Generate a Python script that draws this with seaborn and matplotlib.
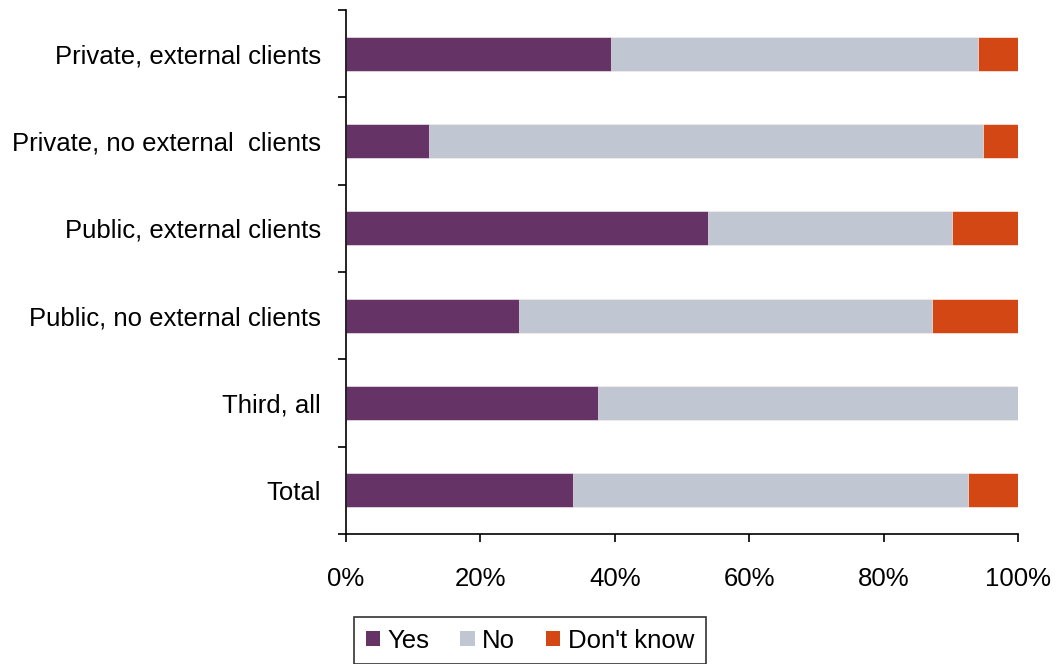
import numpy as np
import pandas as pd
import seaborn as sns
import matplotlib.pyplot as plt
from matplotlib.patches import Patch

categories = ['Private, external clients', 'Private, no external  clients',
              'Public, external clients', 'Public, no external clients',
              'Third, all', 'Total']
yes = [39.4, 12.4, 53.9, 25.7, 37.5, 33.8]
no = [54.6, 82.4, 36.3, 61.5, 62.5, 58.8]
dont_know = [6.0, 5.2, 9.8, 12.8, 0.0, 7.4]
series = ['Yes', 'No', "Don't know"]
colors = ['#663366', '#C0C6D2', '#D24713']

sns.set_style('white')
plt.rcParams['font.family'] = ['Liberation Sans', 'DejaVu Sans']
plt.rcParams['text.color'] = 'black'
plt.rcParams['xtick.color'] = 'black'
plt.rcParams['ytick.color'] = 'black'

df = pd.DataFrame({'category': categories, 'Yes': yes, 'No': no, "Don't know": dont_know})
df['cum_yes'] = df['Yes']
df['cum_no'] = df['Yes'] + df['No']
df['cum_dk'] = df['cum_no'] + df["Don't know"]

fig = plt.figure(figsize=(10.59, 6.64), dpi=100)
ax = fig.add_axes([0.3267, 0.1958, 0.6346, 0.7892])

# stacked bars drawn back to front
for col, color in zip(['cum_dk', 'cum_no', 'cum_yes'], colors[::-1]):
    sns.barplot(data=df, x=col, y='category', orient='h', color=color,
                width=0.39, saturation=1, edgecolor='white', linewidth=0.4, ax=ax)

ax.set_xlim(0, 100)
ax.set_ylim(5.5, -0.5)
ax.set_xlabel('')
ax.set_ylabel('')

ax.set_xticks(np.arange(0, 101, 20))
ax.set_xticklabels([f'{v}%' for v in range(0, 101, 20)])
ax.set_yticks(range(len(categories)))
ax.set_yticklabels(categories)
ax.set_yticks(np.arange(-0.5, 6, 1), minor=True)

ax.tick_params(axis='y', which='major', length=0, pad=18, labelsize=18.5)
ax.tick_params(axis='y', which='minor', length=6, width=1.2, direction='out', left=True)
ax.tick_params(axis='x', which='major', length=6, width=1.2, direction='out',
               bottom=True, pad=18, labelsize=18.5)

for side in ['top', 'right']:
    ax.spines[side].set_visible(False)
for side in ['left', 'bottom']:
    ax.spines[side].set_color('black')
    ax.spines[side].set_linewidth(1.2)

handles = [Patch(facecolor=c, edgecolor='none', label=s) for s, c in zip(series, colors)]
leg = fig.legend(handles=handles, loc='upper center', bbox_to_anchor=(530 / 1059, 1 - 617 / 664),
                 ncol=3, fontsize=18.5, frameon=True, fancybox=False, borderaxespad=0,
                 handlelength=0.55, handleheight=0.55, handletextpad=0.3,
                 columnspacing=1.2, borderpad=0.45)
leg.get_frame().set_edgecolor('black')
leg.get_frame().set_linewidth(1.2)

plt.savefig('out.png', dpi=100)
